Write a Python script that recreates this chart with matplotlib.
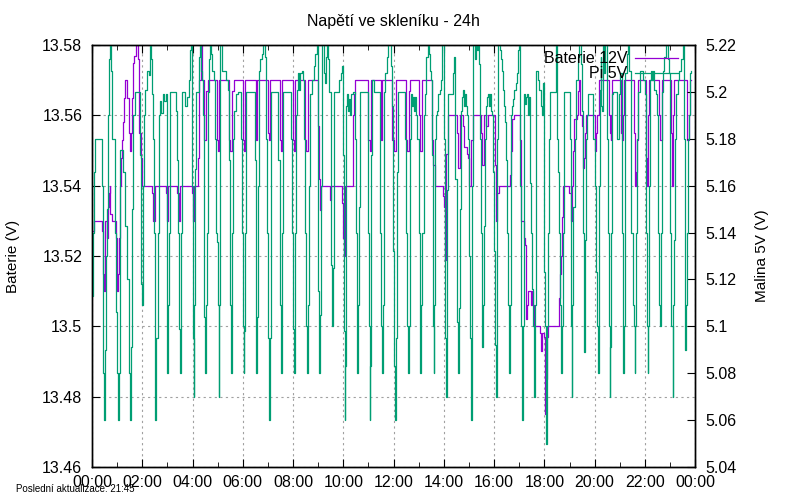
import matplotlib
matplotlib.use('Agg')
import matplotlib.pyplot as plt
from matplotlib.lines import Line2D
from matplotlib.ticker import MultipleLocator, FuncFormatter

plt.rcParams['font.family'] = ['Liberation Sans', 'DejaVu Sans']

# Pi 5V: time in minutes since 00:00, voltage
pi_minutes = [
    0, 1.6, 4, 6.4, 24, 26.4, 28.8, 32, 34.4, 36, 38.4, 40, 42.4, 44.8, 48, 56,
    58.4, 60.8, 62.4, 64, 66.4, 68, 74.4, 78.4, 84, 87.2, 90.4, 92.8, 94.4, 97.6,
    102.4, 113.6, 116.8, 119.2, 120.8, 124.8, 127.2, 130.4, 135.2, 138.4, 140.8,
    143.2, 145.6, 148, 149.6, 151.2, 153.6, 156.8, 160, 162.4, 165.6, 168.8,
    172.8, 176, 178.4, 180, 182.4, 184, 186.4, 200.8, 203.2, 206.4, 208.8, 210.4,
    212, 214.4, 223.2, 227.2, 231.2, 234.4, 236.8,
    238.5, 240.1, 242.5, 244.1, 245.7, 248.1, 256.1, 258.5, 260.9, 263.3, 264.9,
    266.5, 268.1, 270.5, 272.1, 274.5, 276.1, 280.1, 282.5, 284.9, 287.3, 290.5,
    292.9, 296.1, 298.5, 300.1, 302.5, 304.1, 306.5, 309.7, 314.5, 320.1, 324.1,
    326.5, 328.9, 330.5, 332.1, 333.7, 336.1, 340.1, 344.1, 348.1, 356.1, 358.5,
    360.1, 361.7, 363.3, 364.9, 366.5, 388.9, 390.5, 392.1, 394.5, 396.1, 398.5,
    401.7, 404.9, 408.1, 412.1, 416.1, 418.5, 420.9, 422.5, 424.1, 426.5, 428.1,
    444.9, 448.1, 450.5, 452.9, 456.1, 476.1, 478.5, 480.9,
    481.7, 484.1, 486.5, 488.1, 490.5, 492.9, 495.3, 497.7, 500.9, 503.3, 505.7,
    508.1, 510.5, 513.7, 516.1, 518.5, 520.9, 524.9, 528.9, 532.9, 536.1, 538.5,
    540.1, 542.5, 544.1, 546.5, 548.1, 552.9, 556.1, 558.5, 560.9, 564.1, 566.5,
    571.3, 573.7, 576.1, 577.7, 590.5, 594.5, 597.7, 600.1, 601.7, 603.3, 604.9,
    606.5, 608.9, 611.3, 613.7, 616.1, 619.3, 622.5, 628.1, 630.5, 632.1, 633.7,
    636.1, 637.7, 640.1, 658.5, 660.9, 662.5, 664.1, 666.5, 668.9, 672.1, 688.1,
    690.5, 692.1, 693.7, 696.1, 700.1, 704.1, 706.5, 710.5, 712.9, 716.1,
    718.5, 721.7, 724.1, 725.7, 728.1, 729.7, 748.1, 750.5, 752.1, 753.7, 756.1,
    758.5, 760.1, 761.7, 764.1, 766.5, 768.9, 771.3, 773.7, 776.9, 780.1, 782.5,
    784.1, 786.5, 788.9, 792.1, 796.1, 798.5, 801.7, 804.9, 807.3, 809.7, 812.1,
    813.7, 815.3, 816.9, 818.5, 820.9, 823.3, 826.5, 831.3, 832.9, 834.5, 836.1,
    840.9, 842.5, 844.9, 846.5, 848.1, 850.5, 860.9, 864.1, 867.3, 870.5, 873.7,
    876.1, 878.5, 880.1, 882.5, 884.9, 887.3, 889.7, 892.9, 895.3, 897.7, 900.1,
    902.5, 904.9, 906.5, 908.1, 910.5, 913.7, 916.1, 920.1, 922.5, 924.9, 926.5,
    929.7, 932.1, 934.5, 936.1, 938.5, 940.9, 943.3, 945.7, 948.1, 950.5, 952.9,
    955.3, 957.7, 960.1, 962.5,
    964.1, 965.7, 967.3, 969.7, 972.9, 975.3, 977.7, 980.1, 983.3, 986.5, 988.9,
    990.5, 992.1, 994.5, 996.1, 997.7, 999.3, 1000.9, 1003.3, 1005.7, 1008.1,
    1012.1, 1015.3, 1017.7, 1020.1, 1022.5, 1024.1, 1025.7, 1028.1, 1030.5,
    1034.5, 1036.9, 1039.3, 1040.9, 1043.3, 1044.9, 1046.5, 1048.1, 1050.5,
    1052.9, 1054.5, 1056.1, 1057.7, 1060.1, 1064.1, 1068.1, 1072.1, 1074.5,
    1076.1, 1078.5, 1080.1, 1082.5, 1084.1, 1084.9, 1086.5, 1088.1, 1090.5,
    1092.9, 1108.1, 1110.5, 1112.9, 1114.5, 1116.1, 1118.5, 1120.1, 1122.5,
    1124.1, 1126.5, 1140.1, 1142.5, 1144.1, 1144.9, 1146.5, 1148.9, 1152.1,
    1156.1, 1160.1, 1162.5, 1166.5, 1168.9, 1172.1, 1174.5, 1176.1, 1178.5,
    1180.9, 1184.1,
    1196.1, 1200.1, 1204.1, 1206.5, 1208.1, 1209.7, 1212.1, 1214.5, 1216.1,
    1218.5, 1220.1, 1222.5, 1224.9, 1228.9, 1230.5, 1232.1, 1233.7, 1236.1,
    1237.7, 1240.1, 1242.5, 1244.1, 1254.5, 1257.7, 1260.9, 1264.1, 1266.5,
    1268.1, 1269.7, 1271.3, 1272.9, 1276.1, 1279.3, 1282.5, 1286.5, 1290.5,
    1292.9, 1295.3, 1296.9, 1298.5, 1300.1, 1304.1, 1308.9, 1316.1, 1319.3,
    1321.7, 1324.1, 1326.5, 1328.1, 1330.5, 1332.1, 1334.5, 1336.9, 1339.3,
    1342.5, 1345.7, 1348.9, 1352.1, 1354.5, 1356.1, 1358.5, 1360.1, 1363.3,
    1366.5, 1369.7, 1372.9, 1375.3, 1378.5, 1380.9, 1383.3, 1386.5, 1388.1,
    1390.5, 1392.1, 1394.5, 1398.5, 1402.5, 1406.5, 1409.7, 1412.1, 1414.5,
    1416.1, 1418.5, 1420.1, 1422.5, 1424.9, 1427.3, 1428.9,
]
pi_volts = [
    5.113, 5.140, 5.166, 5.180, 5.160, 5.080, 5.060, 5.090, 5.130, 5.150, 5.190, 5.214, 5.225, 5.209, 5.180, 5.140,
    5.106, 5.080, 5.060, 5.080, 5.120, 5.175, 5.166, 5.143, 5.120, 5.080, 5.060, 5.091, 5.150, 5.190,
    5.200, 5.173, 5.118, 5.109, 5.160, 5.190, 5.201, 5.209, 5.207, 5.225, 5.214,
    5.199, 5.180, 5.140, 5.088, 5.060, 5.095, 5.140, 5.190, 5.196, 5.191, 5.199,
    5.196, 5.199, 5.160, 5.080, 5.109, 5.140, 5.200, 5.192, 5.171, 5.140, 5.099, 5.080,
    5.140, 5.200, 5.194, 5.198, 5.205, 5.218, 5.225,
    5.160, 5.095, 5.070, 5.109, 5.167, 5.200, 5.215, 5.225, 5.209, 5.205, 5.190,
    5.140, 5.104, 5.080, 5.109, 5.140, 5.200, 5.214, 5.225, 5.216, 5.209, 5.205,
    5.180, 5.140, 5.136, 5.109, 5.070, 5.109, 5.225, 5.209, 5.209, 5.205, 5.201,
    5.171, 5.140, 5.109, 5.080, 5.140, 5.180, 5.192, 5.199, 5.200, 5.180, 5.140,
    5.100, 5.080, 5.098, 5.140, 5.200, 5.171, 5.109, 5.080, 5.104, 5.160, 5.209,
    5.214, 5.216, 5.225, 5.215, 5.180, 5.140, 5.095, 5.060, 5.095, 5.160, 5.200,
    5.171, 5.109, 5.080, 5.140, 5.200, 5.180, 5.140, 5.099,
    5.080, 5.140, 5.180, 5.190, 5.201, 5.208, 5.201, 5.208, 5.209, 5.205, 5.180,
    5.140, 5.100, 5.080, 5.109, 5.160, 5.199, 5.205, 5.211, 5.216, 5.225, 5.180,
    5.115, 5.080, 5.105, 5.160, 5.225, 5.208, 5.204, 5.215, 5.225, 5.214, 5.200,
    5.126, 5.100, 5.125, 5.200, 5.205, 5.208, 5.211, 5.173, 5.098, 5.060, 5.083,
    5.194, 5.199, 5.192, 5.197, 5.190, 5.199, 5.200, 5.180, 5.140, 5.100, 5.080,
    5.109, 5.151, 5.200, 5.140, 5.100, 5.060, 5.083, 5.173, 5.205, 5.200, 5.140,
    5.100, 5.080, 5.109, 5.200, 5.208, 5.215, 5.225, 5.225, 5.211, 5.194,
    5.132, 5.083, 5.060, 5.095, 5.166, 5.200, 5.180, 5.140, 5.100, 5.080, 5.100,
    5.134, 5.180, 5.199, 5.194, 5.198, 5.192, 5.198, 5.190, 5.180, 5.140, 5.100,
    5.080, 5.109, 5.140, 5.190, 5.199, 5.215, 5.225, 5.216, 5.209, 5.205, 5.173,
    5.100, 5.080, 5.109, 5.180, 5.190, 5.192, 5.199, 5.201, 5.205, 5.212, 5.225,
    5.180, 5.095, 5.070, 5.095, 5.158, 5.199, 5.208, 5.215, 5.163, 5.102, 5.080,
    5.108, 5.150, 5.192, 5.198, 5.201, 5.194, 5.199, 5.194, 5.190, 5.180, 5.130,
    5.095, 5.060, 5.095, 5.160, 5.220, 5.214, 5.225, 5.218, 5.225, 5.212, 5.180,
    5.140, 5.091, 5.109, 5.143, 5.180, 5.194, 5.198, 5.199, 5.194, 5.199, 5.192,
    5.190, 5.166, 5.132, 5.092,
    5.070, 5.109, 5.180, 5.225, 5.218, 5.214, 5.209, 5.201, 5.194, 5.187, 5.171,
    5.140, 5.109, 5.100, 5.080, 5.109, 5.140, 5.190, 5.194, 5.197, 5.201,
    5.204, 5.208, 5.218, 5.225, 5.160, 5.100, 5.060, 5.100, 5.199,
    5.195, 5.198, 5.199, 5.190, 5.198, 5.190, 5.161, 5.140, 5.116,
    5.100, 5.083, 5.070, 5.109, 5.209, 5.205, 5.201, 5.194, 5.190,
    5.204, 5.164, 5.123, 5.100, 5.060, 5.050, 5.100, 5.140, 5.180,
    5.200, 5.225, 5.180, 5.166, 5.140, 5.109, 5.100, 5.080, 5.100,
    5.140, 5.200, 5.180, 5.140, 5.100, 5.070, 5.109, 5.151, 5.180,
    5.205, 5.215, 5.225, 5.212, 5.192, 5.140, 5.089, 5.137, 5.180,
    5.190, 5.199,
    5.180, 5.160, 5.123, 5.100, 5.080, 5.160, 5.201, 5.215, 5.194,
    5.192, 5.225, 5.208, 5.225, 5.208, 5.180, 5.140, 5.100, 5.070,
    5.091, 5.140, 5.199, 5.200, 5.180, 5.199, 5.208, 5.140, 5.100,
    5.080, 5.100, 5.160, 5.208, 5.216, 5.225, 5.209, 5.140, 5.109,
    5.100, 5.080, 5.100, 5.140, 5.180, 5.200, 5.209, 5.205, 5.199,
    5.140, 5.100, 5.080, 5.100, 5.160, 5.205, 5.209, 5.205, 5.209,
    5.201, 5.199, 5.190, 5.140, 5.109, 5.100, 5.140, 5.200, 5.209,
    5.215, 5.225, 5.220, 5.214, 5.208, 5.140, 5.100, 5.070, 5.109,
    5.137, 5.180, 5.199, 5.205, 5.209, 5.214, 5.225, 5.180, 5.140,
    5.090, 5.109, 5.140, 5.180, 5.190, 5.208, 5.209,
]

# Baterie 12V: time in minutes since 00:00, voltage
bat_minutes = [
    0, 4, 24, 26.4, 28, 30.4, 32, 36, 38.4, 40, 42.4, 44, 48, 58.4, 60, 62.4, 64,
    66.4, 68.8, 72, 74.4, 76, 78.4, 84, 88, 89.6, 92, 94.4, 96, 98.4, 100.8, 104,
    110.4, 112, 116, 118.4, 144, 146.4, 150.4, 176, 179.2, 182.4, 204, 208, 211.2,
    238.4, 240.1, 244.1, 252.1, 254.5, 256.1, 259.3, 262.5, 268.1, 272.1, 276.1,
    299.3, 300.9, 304.1, 328.1, 330.5, 333.7, 338.5, 359.3, 361.7, 364.9, 390.5,
    394.5, 419.3, 421.7, 424.9, 448.9, 451.3, 454.5, 479.3, 481.7, 484.1, 508.1,
    511.3, 516.1, 538.5, 540.9, 543.3, 545.7, 568.1, 571.3, 597.7, 600.1, 601.7,
    604.9, 622.5, 624.1, 626.5, 628.1, 658.5, 662.5, 664.9, 688.9, 692.9, 716.1,
    721.7, 724.9, 748.9, 752.1, 756.1, 760.1, 780.9, 783.3, 787.3, 810.5, 813.7,
    818.5, 838.5, 840.9, 842.5, 845.7, 848.9, 871.3, 874.5, 878.5, 884.9, 888.9,
    894.5, 898.5, 900.9, 905.7, 908.9, 929.7, 932.1, 935.3, 940.9, 945.7, 960.9,
    964.1, 967.3, 971.3, 997.7, 1000.1, 1003.3, 1006.5, 1020.9, 1023.3, 1031.3,
    1034.5, 1036.1, 1038.5, 1040.1, 1047.3, 1049.7, 1052.1, 1054.5, 1069.7,
    1072.1, 1075.3, 1078.5, 1080.9, 1084.1, 1086.5, 1089.7, 1114.5, 1117.7,
    1120.1, 1121.7, 1124.1, 1139.3, 1142.5, 1145.7, 1148.1, 1151.3, 1156.9,
    1159.3, 1161.7, 1165.7, 1170.5, 1172.1, 1174.5, 1176.9, 1180.1, 1200.1,
    1201.7, 1204.1, 1206.5, 1209.7, 1234.5, 1236.1, 1238.5, 1240.1, 1242.5,
    1263.3, 1265.7, 1268.1, 1270.5, 1293.7, 1296.1, 1298.5, 1300.1, 1302.5,
    1304.1, 1323.3, 1325.7, 1328.1, 1330.5, 1353.7, 1356.1, 1360.1, 1381.7,
    1384.1, 1386.5, 1388.1, 1390.5, 1420.9, 1424.1, 1426.5, 1428.9,
]
bat_volts = [
    13.527, 13.530, 13.527, 13.515, 13.510, 13.515, 13.530, 13.525, 13.534, 13.538, 13.540, 13.532, 13.530, 13.525, 13.510, 13.515, 13.525,
    13.540, 13.548, 13.553, 13.558, 13.565, 13.570, 13.565, 13.555, 13.550, 13.555, 13.557, 13.565, 13.575, 13.577, 13.580,
    13.576, 13.555, 13.548, 13.540, 13.538, 13.530, 13.540, 13.538, 13.530, 13.540, 13.538, 13.530, 13.540,
    13.538, 13.530, 13.540, 13.548, 13.550, 13.570, 13.580, 13.570, 13.553, 13.567, 13.570,
    13.553, 13.550, 13.570, 13.553, 13.550, 13.567, 13.570, 13.553, 13.550, 13.570, 13.553,
    13.570, 13.555, 13.553, 13.570, 13.553, 13.550, 13.570, 13.553, 13.550, 13.570, 13.553,
    13.550, 13.570, 13.557, 13.542, 13.533, 13.540, 13.536, 13.540, 13.535, 13.525, 13.520,
    13.540, 13.548, 13.560, 13.566, 13.570, 13.553, 13.550, 13.570, 13.553, 13.570, 13.553,
    13.550, 13.570, 13.553, 13.550, 13.567, 13.570, 13.560, 13.550, 13.570, 13.553, 13.546,
    13.540, 13.537, 13.534, 13.519, 13.549, 13.560, 13.555, 13.545, 13.560, 13.557, 13.551,
    13.549, 13.548, 13.540, 13.553, 13.560, 13.555, 13.546, 13.560, 13.557, 13.560, 13.546,
    13.530, 13.538, 13.540, 13.543, 13.550, 13.559, 13.560, 13.553, 13.530, 13.525,
    13.523, 13.502, 13.506, 13.510, 13.506, 13.510, 13.506, 13.500, 13.498,
    13.493, 13.498, 13.497, 13.475, 13.485, 13.497, 13.500, 13.508, 13.515,
    13.520, 13.531, 13.540, 13.538, 13.530, 13.540, 13.550, 13.559, 13.560,
    13.567, 13.570, 13.560, 13.557, 13.545, 13.548, 13.555, 13.560, 13.555,
    13.550, 13.555, 13.560, 13.570, 13.560, 13.555, 13.553, 13.560, 13.570,
    13.555, 13.553, 13.560, 13.570, 13.555, 13.540, 13.544, 13.553, 13.560,
    13.570, 13.548, 13.540, 13.560, 13.570, 13.560, 13.553, 13.570, 13.555,
    13.540, 13.548, 13.560, 13.570, 13.553, 13.560, 13.570, 13.570,
]

hour_ticks = list(range(0, 1441, 120))
hour_labels = ['%02d:00' % ((m // 60) % 24) for m in hour_ticks]

fig = plt.figure(figsize=(8, 5), dpi=100)
ax = fig.add_axes([0.115, 0.066, 0.754, 0.844])
ax2 = ax.twinx()

bat_color = '#9400d3'
pi_color = '#009e73'

ax.plot(bat_minutes, bat_volts, color=bat_color, lw=0.9, drawstyle='steps-post')
ax2.plot(pi_minutes, pi_volts, color=pi_color, lw=0.9, drawstyle='steps-post')

ax.set_xlim(0, 1440)
ax.set_ylim(13.46, 13.58)
ax2.set_ylim(5.04, 5.22)

ax.set_xticks(hour_ticks)
ax.set_xticklabels(hour_labels)
ax.xaxis.set_minor_locator(MultipleLocator(60))
ax.yaxis.set_major_locator(MultipleLocator(0.02))
ax2.yaxis.set_major_locator(MultipleLocator(0.02))
fmt = FuncFormatter(lambda v, p: '%g' % round(v, 4))
ax.yaxis.set_major_formatter(fmt)
ax2.yaxis.set_major_formatter(fmt)

ax.tick_params(axis='x', which='both', direction='in', top=True, labelsize=11.5, pad=6)
ax.tick_params(axis='x', which='major', length=6)
ax.tick_params(axis='x', which='minor', length=3.5)
ax.tick_params(axis='y', direction='in', length=6, labelsize=11.5, pad=7, right=False)
ax2.tick_params(axis='y', direction='in', length=6, labelsize=11.5, pad=7)

ax.grid(True, which='major', color='#a0a0a0', linestyle=(0, (2, 3)), lw=0.8)

for a in (ax, ax2):
    for s in a.spines.values():
        s.set_linewidth(1.0)
        s.set_color('black')

fig.text(0.016, 0.488, 'Baterie (V)', rotation=90, ha='center', va='center', fontsize=11)
fig.text(0.953, 0.488, 'Malina 5V (V)', rotation=90, ha='center', va='center', fontsize=11)
fig.text(0.492, 0.957, 'Napětí ve skleníku - 24h', ha='center', va='center', fontsize=11.5)
fig.text(0.02, 0.022, 'Poslední aktualizace: 21:45', ha='left', va='center', fontsize=7)

handles = [Line2D([], [], color=bat_color, lw=0.9), Line2D([], [], color=pi_color, lw=0.9)]
leg = ax2.legend(handles, ['Baterie 12V', 'Pi 5V'], loc='upper right',
                 bbox_to_anchor=(0.972, 0.985), frameon=False, borderpad=0,
                 borderaxespad=0, markerfirst=False, fontsize=11.5,
                 handlelength=2.7, handletextpad=0.5, labelspacing=0.0)
for t in leg.get_texts():
    t.set_ha('right')

fig.savefig('out.png', dpi=100)
